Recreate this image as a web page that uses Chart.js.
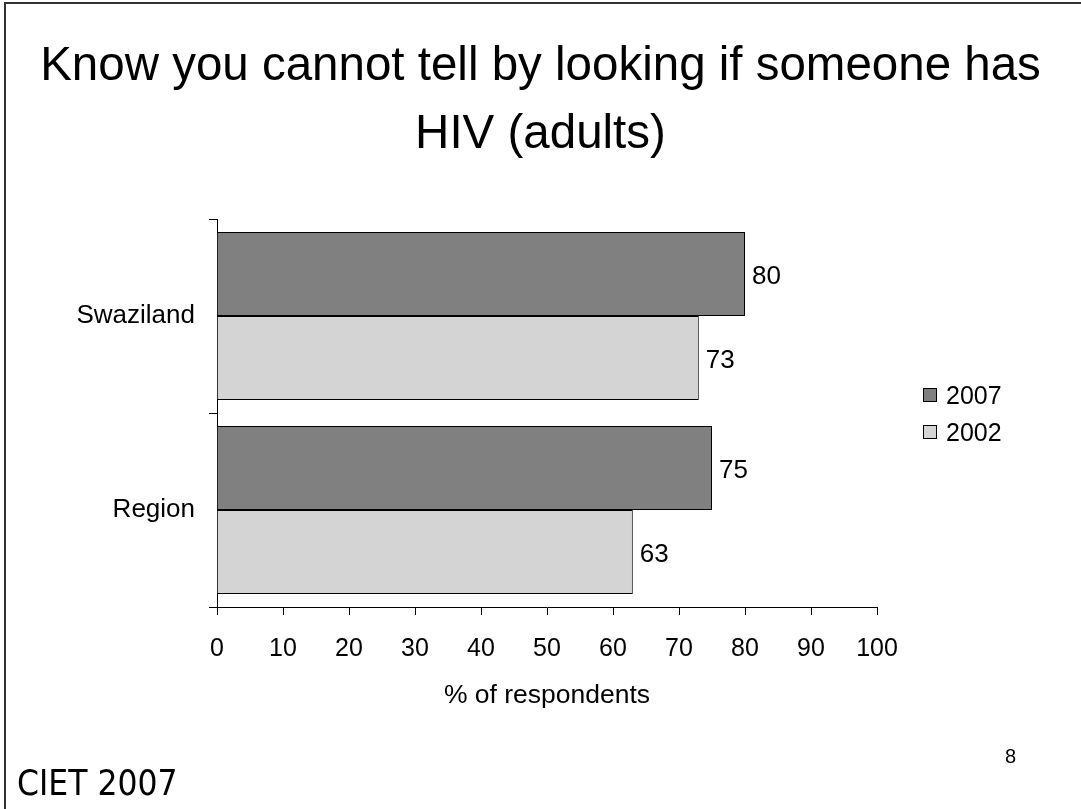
<!DOCTYPE html>
<html>
<head>
<meta charset="utf-8">
<script src="https://cdn.jsdelivr.net/npm/chart.js@4.4.1/dist/chart.umd.min.js"></script>
<style>
    html, body { margin: 0; padding: 0; background: #fff; }
    #slide { position: relative; width: 1081px; height: 809px; overflow: hidden; }
    #marco { position: absolute; left: 4px; top: 2px; width: 1100px; height: 830px;
             border-left: 2px solid #333; border-top: 2px solid #333; }
    #titulo { position: absolute; left: 0; top: 30px; width: 1081px; text-align: center;
              font-family: "Liberation Sans", Arial, sans-serif; font-size: 47.5px;
              line-height: 68px; color: #000; }
    #pie { position: absolute; left: 17px; top: 763px;
           font-family: "DejaVu Sans Condensed", "DejaVu Sans", sans-serif;
           font-stretch: condensed; font-size: 35px; color: #000; }
    #pagina { position: absolute; left: 1005px; top: 745px;
              font-family: "Liberation Sans", Arial, sans-serif; font-size: 20px; color: #000; }
    #caja { position: absolute; left: 0; top: 0; width: 1081px; height: 809px; }
</style>
</head>
<body>
<div id="slide">
    <div id="marco"></div>
    <div id="caja"><canvas id="grafico"></canvas></div>
    <div id="titulo">Know you cannot tell by looking if someone has<br>HIV (adults)</div>
    <div id="pie">CIET 2007</div>
    <div id="pagina">8</div>
</div>

<script>

const categorias = ["Swaziland", "Region"];
const valores2007 = [80, 75];
const valores2002 = [73, 63];
const ticksX = [0, 10, 20, 30, 40, 50, 60, 70, 80, 90, 100];

const fuente = "'Liberation Sans', Arial, sans-serif";

// etiquetas de valor al final de cada barra
const etiquetasPlugin = {
    id: "etiquetas",
    afterDatasetsDraw(chart) {
        const ctx = chart.ctx;
        ctx.save();
        ctx.font = "26px " + fuente;
        ctx.fillStyle = "#000";
        ctx.textAlign = "left";
        ctx.textBaseline = "middle";
        chart.data.datasets.forEach((ds, i) => {
            chart.getDatasetMeta(i).data.forEach((bar, j) => {
                ctx.fillText(String(ds.data[j]), bar.x + 7, bar.y + 3);
            });
        });
        ctx.restore();
    }
};

// leyenda a la derecha
const leyendaPlugin = {
    id: "leyenda",
    afterDraw(chart) {
        const ctx = chart.ctx;
        const area = chart.chartArea;
        const centro = (area.top + area.bottom) / 2;
        const x = area.right + 46;
        ctx.save();
        ctx.font = "25px " + fuente;
        ctx.textBaseline = "middle";
        chart.data.datasets.forEach((ds, i) => {
            const y = centro - 18 + i * 37;
            ctx.fillStyle = ds.backgroundColor;
            ctx.fillRect(x, y - 7, 14, 14);
            ctx.strokeStyle = "#000";
            ctx.lineWidth = 1;
            ctx.strokeRect(x + 0.5, y - 6.5, 13, 13);
            ctx.fillStyle = "#000";
            ctx.fillText(ds.label, x + 23, y + 2);
        });
        ctx.restore();
    }
};

new Chart(document.getElementById("grafico"), {
    type: "bar",
    data: {
        labels: categorias,
        datasets: [
            {
                label: "2007",
                data: valores2007,
                backgroundColor: "#808080",
                borderColor: "#000",
                borderWidth: 1,
                categoryPercentage: 0.866,
                barPercentage: 1
            },
            {
                label: "2002",
                data: valores2002,
                backgroundColor: "#d4d4d4",
                borderColor: "#000",
                borderWidth: 1,
                categoryPercentage: 0.866,
                barPercentage: 1
            }
        ]
    },
    options: {
        indexAxis: "y",
        responsive: true,
        maintainAspectRatio: false,
        animation: false,
        layout: {
            padding: { top: 219, right: 204, bottom: 89, left: 0 }
        },
        plugins: {
            legend: { display: false },
            title: { display: false },
            tooltip: { enabled: false }
        },
        scales: {
            x: {
                min: 0,
                max: 100,
                afterBuildTicks: s => { s.ticks = ticksX.map(v => ({ value: v })); },
                afterFit: s => { s.height = 113; },
                grid: { drawOnChartArea: false, tickLength: 8, color: "#000" },
                border: { display: true, color: "#000", width: 1 },
                ticks: { color: "#000", padding: 19, font: { family: fuente, size: 25 } },
                title: {
                    display: true,
                    text: "% of respondents",
                    color: "#000",
                    padding: { top: 8, bottom: 8 },
                    font: { family: fuente, size: 26.5 }
                }
            },
            y: {
                afterFit: s => { s.width = 217; },
                grid: { drawOnChartArea: false, tickLength: 8, color: "#000", offset: true },
                border: { display: true, color: "#000", width: 1 },
                ticks: { color: "#000", padding: 14, font: { family: fuente, size: 26 } }
            }
        }
    },
    plugins: [etiquetasPlugin, leyendaPlugin]
});

</script>
</body>
</html>
